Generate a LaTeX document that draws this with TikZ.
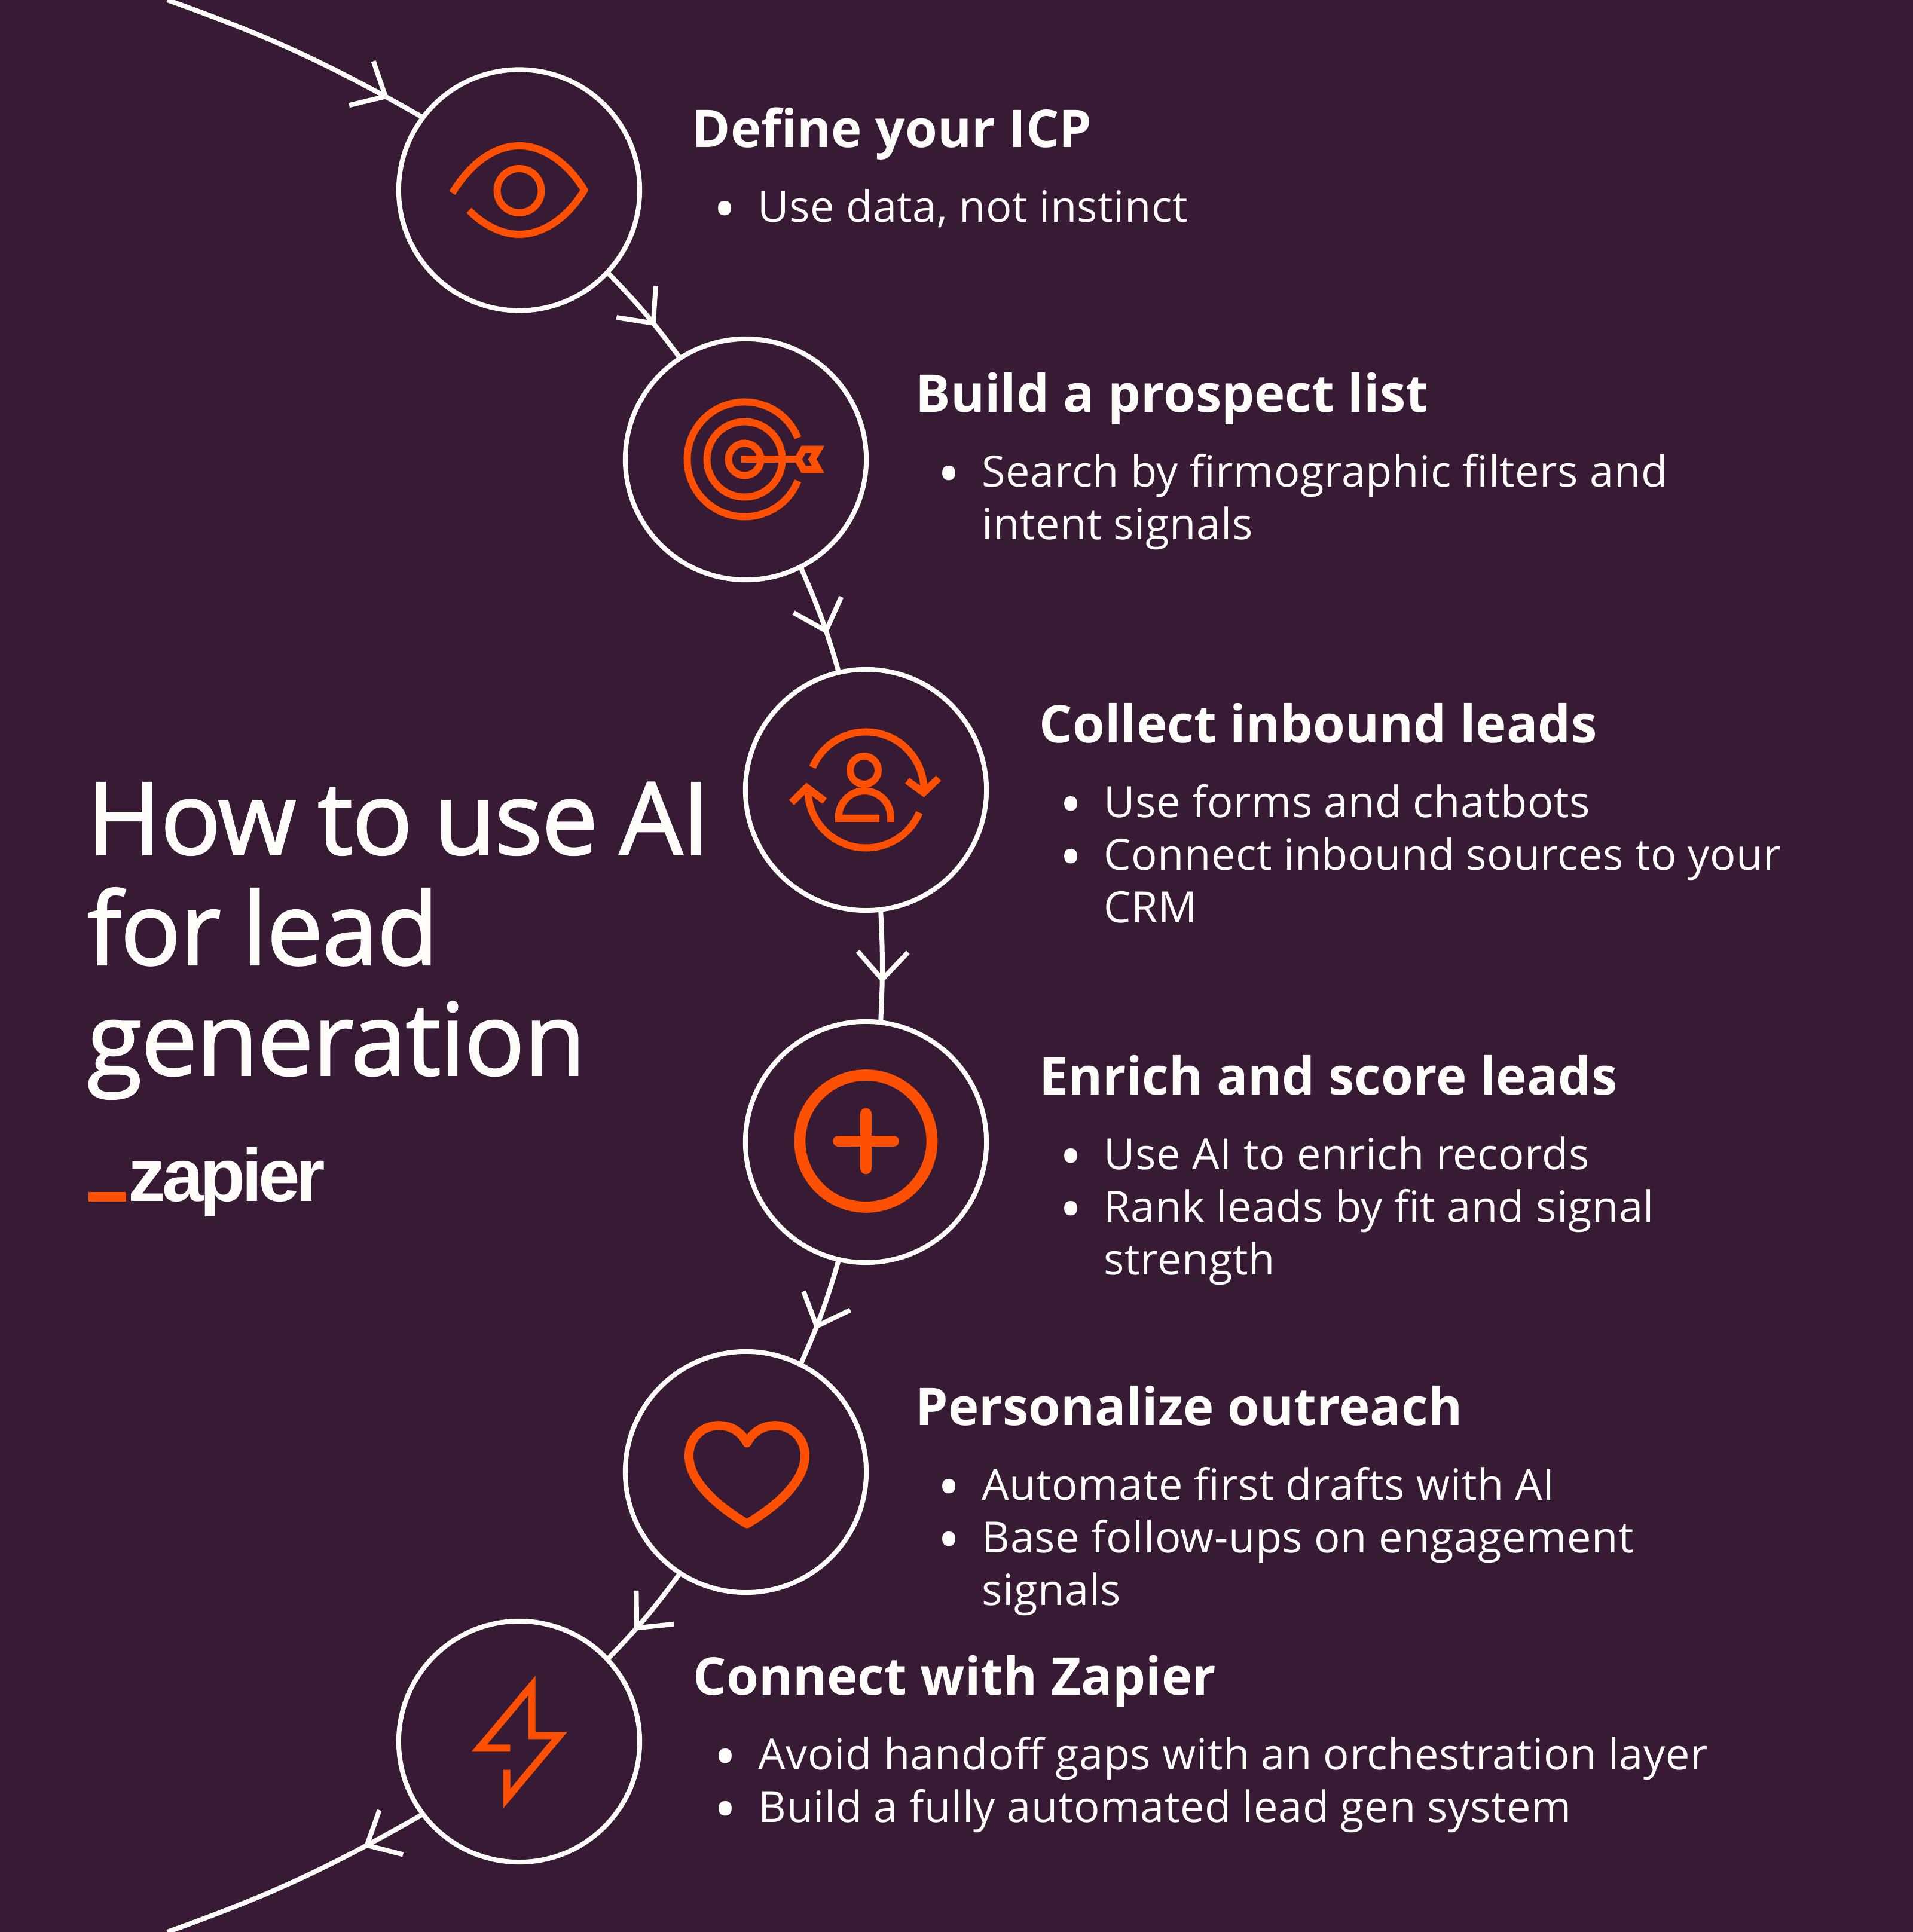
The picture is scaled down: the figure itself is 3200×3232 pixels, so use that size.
\documentclass[tikz,border=0pt]{standalone}
\usepackage{fontspec}
\usepackage{tikz}
\usetikzlibrary{arrows.meta,decorations.markings}
\setmainfont{Open Sans}
\newfontfamily\itemfont[LetterSpace=0.8]{Open Sans}
\newfontfamily\titlefont[LetterSpace=-1,WordSpace=0.85,FakeBold=1.5]{Open Sans}
\newfontfamily\logofont[LetterSpace=-5]{Liberation Sans}
\definecolor{plum}{HTML}{371A33}
\definecolor{paper}{HTML}{FFFDF9}
\definecolor{ember}{HTML}{FF4F00}
\newcommand{\bul}{\makebox[.7cm][l]{\hspace*{-.04cm}\raisebox{-.14cm}{\scalebox{1.4}{\textbullet}}}}
\newcommand{\nobul}{\hspace*{.7cm}}

\begin{document}
\begin{tikzpicture}
[   x=.01cm,y=.01cm,
    stepring/.style={circle,draw=paper,line width=.08cm,minimum size=4.03cm,inner sep=0,outer sep=0},
    head/.style={anchor=base west,inner sep=0,text=paper,font=\bfseries\fontsize{24.75}{30}\selectfont},
    lst/.style={anchor=base west,inner sep=0,text=paper,align=left,font=\itemfont\fontsize{20.5}{25.04}\selectfont},
    flow/.style={draw=paper,line width=.08cm,postaction={decorate},
        decoration={markings,mark=at position #1 with {\arrow{Straight Barb[length=.46cm,width=.84cm]}}}},
    ico/.style={draw=ember,line width=.12cm,miter limit=10}
]
    \fill[plum] (0,0) rectangle (3200,3232);
    \useasboundingbox (0,0) rectangle (3200,3232);

    \node[stepring] (ICP) at (868.5,2914) {};
    \node[stepring] (LIST) at (1247.5,2463.5) {};
    \node[stepring] (INB) at (1448.5,1910.5) {};
    \node[stepring] (ENR) at (1448.5,1321.5) {};
    \node[stepring] (OUT) at (1247.5,769.5) {};
    \node[stepring] (ZAP) at (868.5,318.5) {};
    \coordinate (top) at (280,3232);
    \coordinate (bot) at (280,0);

    \draw[flow=.86] (top) to[bend left=5] (ICP.143);
    \draw[flow=.64] (ICP.-43) to[bend left=4] (LIST.123.5);
    \draw[flow=.645] (LIST.-63) to[bend left=4] (INB.103.5);
    \draw[flow=.65] (INB.-83) to[bend left=3] (ENR.83);
    \draw[flow=.66] (ENR.-103.5) to[bend left=4] (OUT.63);
    \draw[flow=.65] (OUT.-123.5) to[bend left=4] (ZAP.43);
    \draw[flow=.24] (ZAP.-143) to[bend left=5] (bot);

    \begin{scope}[shift={(ICP.center)}]
        \draw[ico] (0,-1) circle (37);
        \draw[ico] (-112,-5) .. controls (-85,40) and (-45,74) .. (0,74) .. controls (45,74) and (85,40) .. (109,0)
            .. controls (85,-40) and (45,-74) .. (0,-74) .. controls (-32,-74) and (-62,-56) .. (-84,-34);
    \end{scope}

    \begin{scope}[shift={(LIST.center)},xshift=-.02cm]
        \draw[ico] (22:96) arc (22:338:96);
        \draw[ico] (0,0) circle (63);
        \draw[ico] (0,0) circle (27);
        \draw[ico] (-6,0) -- (88,0);
        \draw[ico] (98.7,16.8) -- (123,16.8) -- (113.3,0) -- (123,-16.8) -- (98.7,-16.8) -- (89.3,0) -- cycle;
    \end{scope}

    \begin{scope}[shift={(INB.center)}]
        \draw[ico] (-3,33) circle (23.5);
        \draw[ico] (41.3,-53.5) -- (41.3,-45.2) arc (0:180:43.5) -- (-45.7,-47.5) -- (22.5,-47.5);
        \draw[ico] (157:97) arc (157:-3:97);
        \draw[ico] (69,15.5) -- (96.5,-4.5) -- (121.5,19.5);
        \draw[ico] (-23:97) arc (-23:-177:97);
        \draw[ico] (-124.5,-21) -- (-99,4) -- (-69,-18.5);
    \end{scope}

    \begin{scope}[shift={(ENR.center)}]
        \draw[ico,line width=.187cm] (0,1.5) circle (110.5);
        \draw[ico,line width=.187cm,line cap=round] (-46,1.5) -- (46,1.5);
        \draw[ico,line width=.187cm,line cap=round] (0,-44.5) -- (0,47.5);
    \end{scope}

    \begin{scope}[shift={(OUT.center)},xshift=.02cm]
        \draw[ico,line width=.15cm,line join=round] (0,48.5) .. controls (-10,68) and (-28,77.8) .. (-47.3,77.8)
            .. controls (-76,77.8) and (-97,55) .. (-97,27.5) .. controls (-97,-18) and (-45,-60) .. (0,-86.5)
            .. controls (45,-60) and (97,-18) .. (97,27.5) .. controls (97,55) and (76,77.8) .. (47.3,77.8)
            .. controls (28,77.8) and (10,68) .. (0,48.5) -- cycle;
    \end{scope}

    \begin{scope}[shift={(ZAP.center)}]
        \draw[ico] (-15.2,-10.8) -- (-66.8,-10.8) -- (21.2,93.8) -- (21.2,10.2) -- (67.5,10.2) -- (-20.8,-95.2) -- (-20.8,-47.2);
    \end{scope}

    \node[anchor=base west,inner sep=0,text=paper,align=left,
        font=\titlefont\fontsize{47.8}{52.5}\selectfont] (TITLE) at (145,1433.5) {How to use AI\\for lead\\generation};
    \fill[ember] (148,1222) rectangle (211,1238);
    \node[anchor=base west,inner sep=0,text=paper,font=\logofont\bfseries\fontsize{35.5}{40}\selectfont] (LOGO) at (214,1222) {zapier};

    \node[head] (h1) at (1157,2985) {Define your ICP};
    \node[lst] (l1) at (1197,2860) {\bul Use data, not instinct};
    \node[head] (h2) at (1531,2542) {Build a prospect list};
    \node[lst] (l2) at (1572,2329) {\bul Search by firmographic filters and\\\nobul intent signals};
    \node[head] (h3) at (1738,1989) {Collect inbound leads};
    \node[lst] (l3) at (1776,1688) {\bul Use forms and chatbots\\\bul Connect inbound sources to your\\\nobul CRM};
    \node[head] (h4) at (1738,1400) {Enrich and score leads};
    \node[lst] (l4) at (1776,1099) {\bul Use AI to enrich records\\\bul Rank leads by fit and signal\\\nobul strength};
    \node[head] (h5) at (1531,847) {Personalize outreach};
    \node[lst] (l5) at (1572,546) {\bul Automate first drafts with AI\\\bul Base follow-ups on engagement\\\nobul signals};
    \node[head] (h6) at (1159,396.5) {Connect with Zapier};
    \node[lst] (l6) at (1198,183.5) {\bul Avoid handoff gaps with an orchestration layer\\\bul Build a fully automated lead gen system};
\end{tikzpicture}
\end{document}
